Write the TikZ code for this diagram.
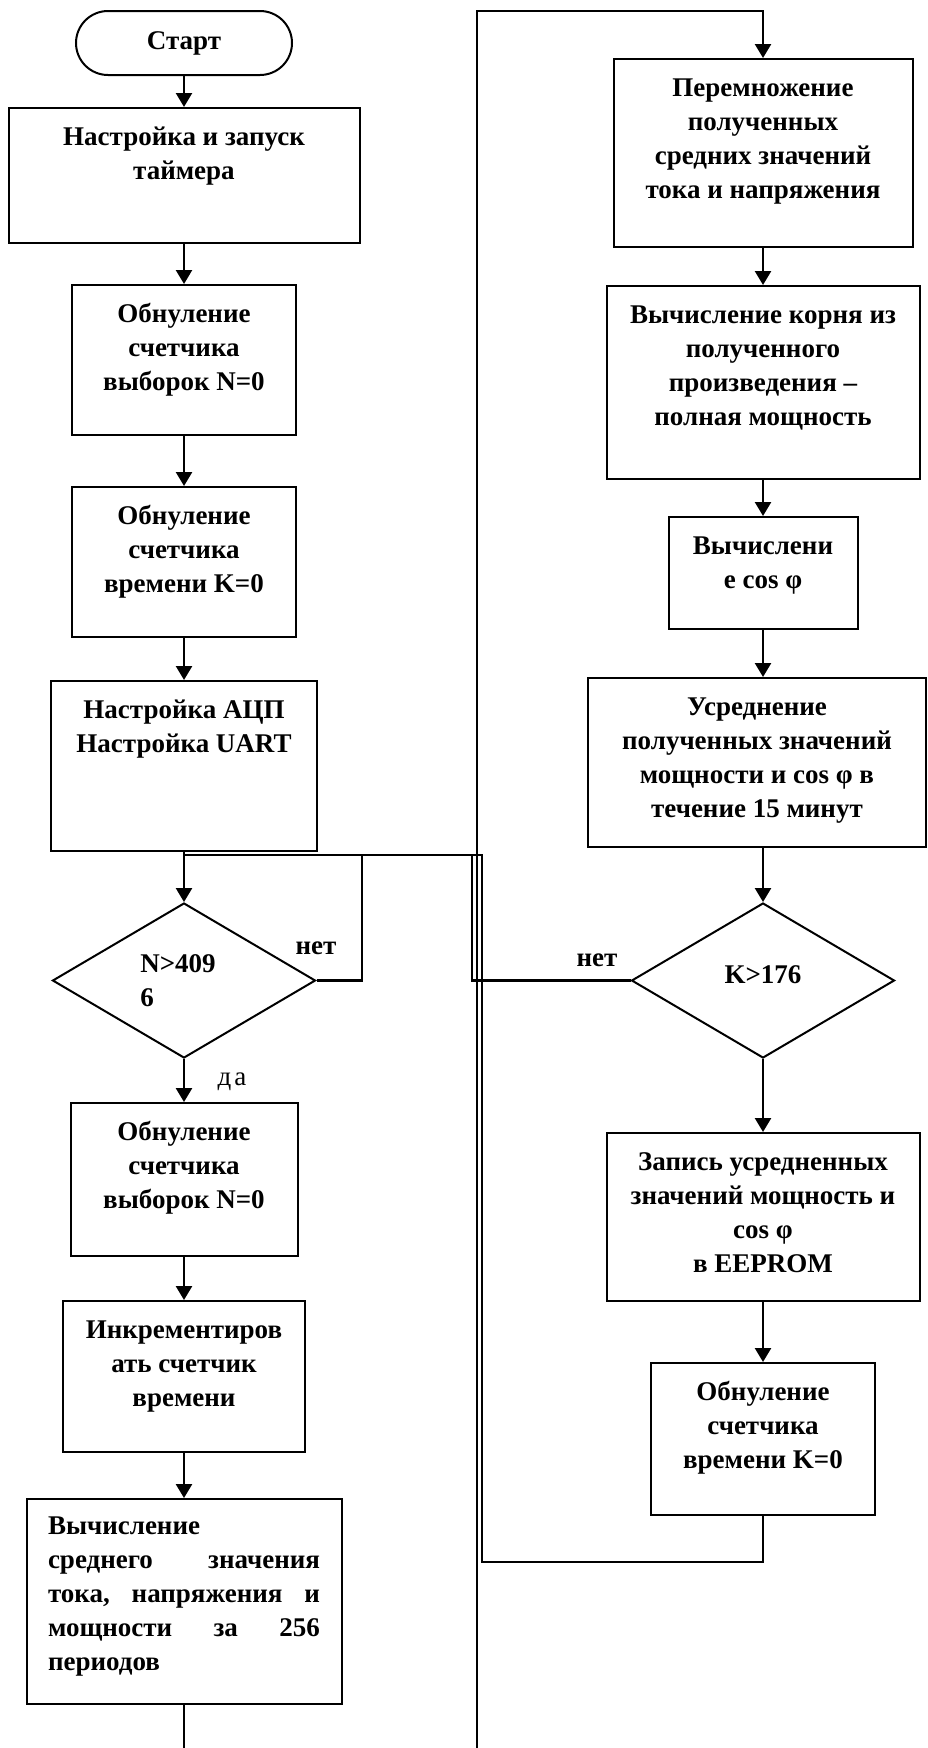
\documentclass[tikz,border=0pt]{standalone}
\usepackage{fontspec}
\setmainfont{Liberation Serif}
\usetikzlibrary{shapes.geometric,arrows.meta}
\newcommand\bxt[3]{\parbox[c][#2][t]{#1}{\centering\rule{0pt}{37pt}#3}}
\newcommand\fnt{\fontsize{27}{34}\selectfont}
\begin{document}
\begin{tikzpicture}[x=1pt,y=-1pt,
  box/.style={draw,rectangle,line width=2pt,inner sep=0pt,font=\bfseries\fnt},
  term/.style={draw,rectangle,rounded corners=32pt,line width=2pt,minimum width=216pt,minimum height=64pt,inner sep=0pt,font=\bfseries\fnt},
  dec/.style={draw,diamond,line width=2pt,inner sep=0pt,minimum width=263pt,minimum height=155pt,align=left,font=\bfseries\fnt},
  conn/.style={line width=2.5pt},
  arr/.style={conn,-{Triangle[width=16pt,length=14pt]}},
  lbl/.style={inner sep=0pt,font=\bfseries\fnt},
  lbln/.style={inner sep=0pt,font=\fnt}]
\useasboundingbox (0,0) rectangle (928,1748);
\fill[white] (0,0) rectangle (928,1748);
% left column
\node[term] (start) at (184,43) {Старт};
\node[box] (b1) at (184,175.5) {\bxt{351pt}{135pt}{Настройка и запуск\\таймера}};
\node[box] (b2) at (184,360) {\bxt{224pt}{150pt}{Обнуление\\счетчика\\выборок N=0}};
\node[box] (b3) at (184,562) {\bxt{224pt}{150pt}{Обнуление\\счетчика\\времени K=0}};
\node[box] (b4) at (184,766) {\bxt{266pt}{170pt}{Настройка АЦП\\Настройка UART}};
\node[dec] (d1) at (184,980.5) {\hspace*{-12pt}N>409\\\hspace*{-12pt}6};
\node[box] (b5) at (184,1179.5) {\bxt{227pt}{153pt}{Обнуление\\счетчика\\выборок N=0}};
\node[box] (b6) at (184,1376.5) {\bxt{242pt}{151pt}{Инкрементиров\\ать счетчик\\времени}};
\node[box] (b7) at (184,1601.5) {\parbox[c][205pt][t]{315pt}{\centering\parbox[t]{272pt}{\rule{0pt}{35pt}Вычисление\\среднего\hfill значения\\тока,\hfill напряжения\hfill и\\мощности\hfill за\hfill 256\\периодов}}};
% right column
\node[box] (r1) at (763,153) {\bxt{299pt}{188pt}{Перемножение\\полученных\\средних  значений\\тока и напряжения}};
\node[box] (r2) at (763,382.5) {\bxt{313pt}{193pt}{Вычисление корня из\\полученного\\произведения –\\полная мощность}};
\node[box] (r3) at (763,573) {\bxt{189pt}{112pt}{Вычислени\\е cos φ}};
\node[box] (r4) at (757,762.5) {\bxt{338pt}{169pt}{Усреднение\\полученных  значений\\мощности и cos φ в\\течение 15 минут}};
\node[dec] (d2) at (763,980.5) {K>176\rule[-12pt]{0pt}{0pt}};
\node[box] (r5) at (763,1217) {\bxt{313pt}{168pt}{Запись усредненных\\значений мощность и\\cos φ\\в EEPROM}};
\node[box] (r6) at (763,1439) {\bxt{224pt}{152pt}{Обнуление\\счетчика\\времени K=0}};
% labels
\node[lbl] (no1) at (316,948) {нет};
\node[lbln] (yes1) at (232,1082) {д\kern3pt а};
\node[lbl] (no2) at (597,960) {нет};
% coordinates
\coordinate (j) at (184,855);
\coordinate (n1) at (362,855);
\coordinate (bl) at (184,1748);
\coordinate (bm) at (477,1748);
\coordinate (tm) at (477,11);
\coordinate (kl) at (472,980.5);
\coordinate (lr) at (482,1562);
% connectors left
\draw[arr] (start.south) -- (b1.north);
\draw[arr] (b1.south) -- (b2.north);
\draw[arr] (b2.south) -- (b3.north);
\draw[arr] (b3.south) -- (b4.north);
\draw[arr] (b4.south) -- (d1.north);
\draw[conn] (d1.east) -| (n1);
\draw[arr] (d1.south) -- (b5.north);
\draw[arr] (b5.south) -- (b6.north);
\draw[arr] (b6.south) -- (b7.north);
\draw[conn] (b7.south) -- (bl);
% connectors right
\draw[arr] (bm) -- (tm) -| (r1.north);
\draw[arr] (r1.south) -- (r2.north);
\draw[arr] (r2.south) -- (r3.north);
\draw[arr] (r3.south) -- (r3.south |- r4.north);
\draw[arr] (d2.north |- r4.south) -- (d2.north);
\draw[arr] (d2.south) -- (r5.north);
\draw[arr] (r5.south) -- (r6.north);
\draw[conn] (d2.west) -- (kl) |- (j);
\draw[conn] (r6.south) |- (lr) -- (lr |- j) -- (j);
\end{tikzpicture}
\end{document}
